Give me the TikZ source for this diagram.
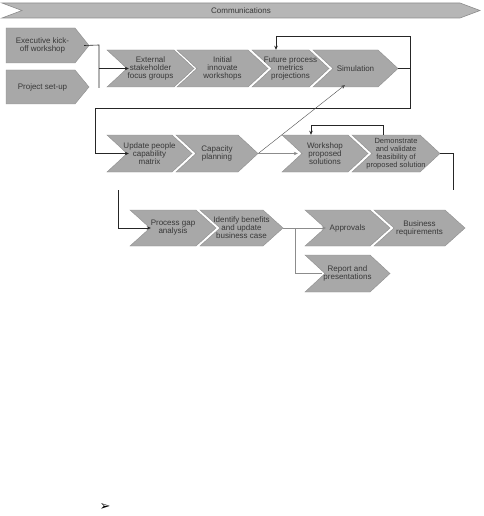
\documentclass[tikz,border=0pt]{standalone}
\usepackage{fontspec}
\setmainfont{Liberation Sans}
\newfontfamily\symfont{DejaVu Sans}
\usetikzlibrary{arrows.meta}
\definecolor{chevgray}{HTML}{A8A8A8}
\definecolor{chevedge}{HTML}{8E8E8E}
\definecolor{bannergray}{HTML}{B6B6B6}
\definecolor{txtgray}{HTML}{383838}
\definecolor{linegray}{HTML}{8C8C8C}
\tikzset{
  chevfill/.style={fill=chevgray, draw=chevedge, line width=0.4pt, line join=miter},
  chevtext/.style={draw=none, inner sep=0pt, align=center, text=txtgray,
    font=\fontsize{8}{8}\selectfont},
  conn/.style={draw=black!85, line width=0.6pt},
  conng/.style={draw=linegray, line width=0.6pt},
  arr/.style={-{Stealth[length=4pt,width=3.5pt]}},
}
\newcommand\mychev[6]{% name, x1, xtip, ytop, ybot, text
  \path[chevfill] (#2,#4) -- (#3-20,#4) -- (#3,{(#4+#5)/2}) -- (#3-20,#5) -- (#2,#5) -- (#2+20,{(#4+#5)/2}) -- cycle;
  \node[chevtext, minimum width={#3-#2}, minimum height={#5-#4}] (#1) at ({(#2+#3)/2},{(#4+#5)/2}) {#6};
}
\newcommand\mypent[6]{% name, x1, xtip, ytop, ybot, text
  \path[chevfill] (#2,#4) -- (#3-14,#4) -- (#3,{(#4+#5)/2}) -- (#3-14,#5) -- (#2,#5) -- cycle;
  \node[chevtext, minimum width={#3-#2}, minimum height={#5-#4}] (#1) at ({(#2+#3-10)/2},{(#4+#5)/2}) {#6};
}
\begin{document}
\begin{tikzpicture}[x=1pt,y=-1pt]
\useasboundingbox (0,0) rectangle (483,516);
% banner
\path[fill=bannergray, draw=chevedge, line width=0.6pt] (2,3) -- (460,3) -- (480,10.5) -- (460,18) -- (2,18) -- (22,10.5) -- cycle;
\node[chevtext] (comm) at (241,10.5) {Communications};
% left boxes
\mypent{exec}{6}{89}{28}{63}{Executive kick-\\off workshop}
\mypent{proj}{6}{89}{70}{104}{Project set-up}
% row 1
\mychev{ext}{107}{194}{50}{87}{External\\stakeholder\\focus groups}
\mychev{init}{177}{268}{50}{87}{Initial\\innovate\\workshops}
\mychev{fut}{252}{329}{50}{87}{Future process\\metrics\\projections}
\mychev{sim}{313}{398}{50}{87}{Simulation}
% row 2
\mychev{upd}{107}{192}{135}{172}{Update people\\capability\\matrix}
\mychev{cap}{176}{258}{135}{172}{Capacity\\planning}
\mychev{work}{282}{368}{135}{172}{Workshop\\proposed\\solutions}
\mychev{demo}{352}{440}{135}{172}{\fontsize{7.5}{7.7}\selectfont Demonstrate\\\fontsize{7.5}{7.7}\selectfont and validate\\\fontsize{7.5}{7.7}\selectfont feasibility of\\\fontsize{7.5}{7.7}\selectfont proposed solution}
% row 3
\mychev{proc}{130}{216}{210}{246}{Process gap\\analysis}
\mychev{ident}{200}{283}{210}{246}{Identify benefits\\and update\\business case}
\mychev{appr}{305}{390}{210}{246}{Approvals}
\mychev{busi}{374}{465}{210}{246}{Business\\requirements}
\mychev{rep}{305}{390}{255}{292}{Report and\\presentations}
% coordinates
\coordinate (j1) at (99,45);
\coordinate (j1b) at (99,88);
\coordinate (j1m) at (99,68.5);
\coordinate (r1) at (410,68.5);
\coordinate (r1t) at (410,36);
\coordinate (ft) at (276,36);
\coordinate (r1b) at (410,108);
\coordinate (l2) at (95,108);
\coordinate (l2b) at (95,153.5);
\coordinate (wt) at (383,125);
\coordinate (wl) at (311,125);
\coordinate (dr) at (453,153.5);
\coordinate (dd) at (453,190);
\coordinate (pv) at (118,190);
\coordinate (pb) at (118,228);
\coordinate (ij) at (295,228);
\coordinate (ijb) at (295,273.5);
% connectors
\draw[conn] (exec.east) -- (j1) -- (j1b);
\draw[conn, arr] (j1m) -- ([xshift=22]ext.west);
\draw[conn] (sim.east) -- (r1) -- (r1t) -- (ft);
\draw[conn, arr] (ft) -- (ft |- fut.north);
\draw[conn] (r1) -- (r1b) -- (l2) -- (l2b);
\draw[conn, arr] (l2b) -- ([xshift=22]upd.west);
\draw[draw=black!70, line width=0.4pt, arr] (cap.east) -- (345,85);
\draw[conng, arr] (cap.east) -- ([xshift=16]work.west);
\draw[conn] (demo.north -| wt) -- (wt) -- (wl);
\draw[conn, arr] (wl) -- (wl |- work.north);
\draw[conn] (demo.east) -- (dr) -- (dd);
\draw[conn] (pv) -- (pb);
\draw[conn, arr] (pb) -- ([xshift=21]proc.west);
\draw[conng] (ident.east) -- (ij);
\draw[conng, arr] (ij) -- ([xshift=21]appr.west);
\draw[conng] (ij) -- (ijb) -- ([xshift=17]rep.west);
% bullet symbol
\node[inner sep=0pt, font=\symfont\fontsize{13}{13}\selectfont] (bullet) at (105,507) {➢};
\end{tikzpicture}
\end{document}
